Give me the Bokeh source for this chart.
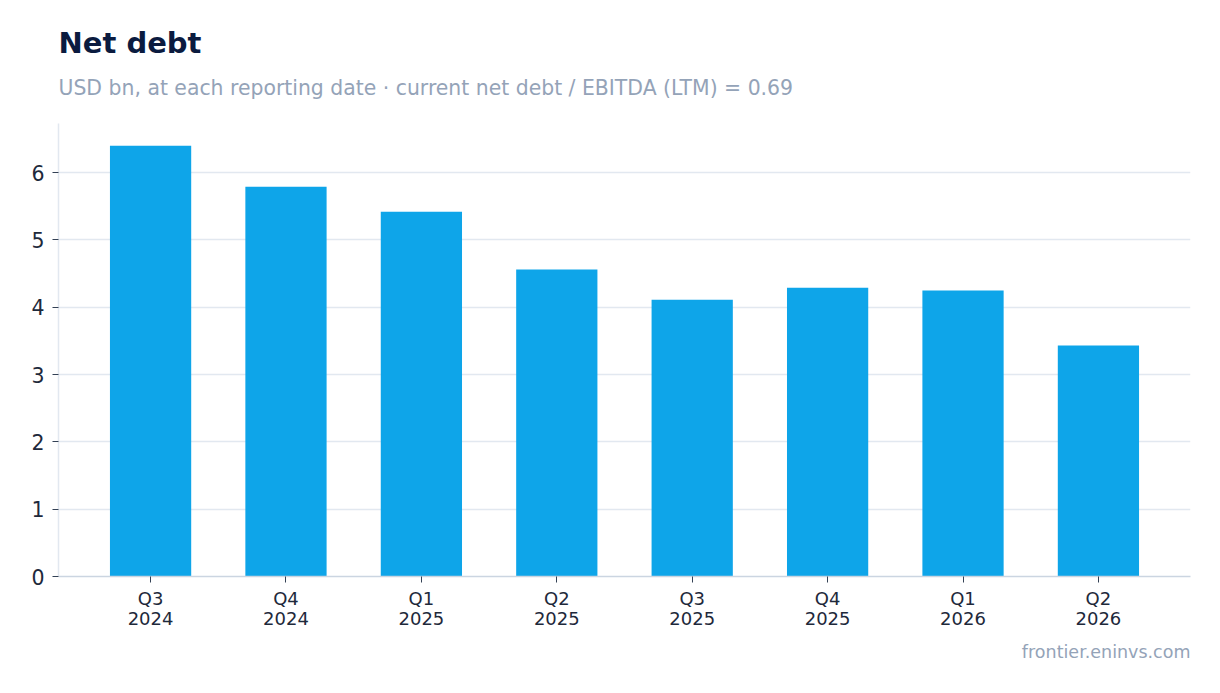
from bokeh.plotting import figure
from bokeh.models import Title, Range1d, FixedTicker, ColumnDataSource, LinearAxis
from bokeh.embed import file_html
from bokeh.resources import INLINE

# ---- data ----
quarter_labels = ["Q3", "Q4", "Q1", "Q2", "Q3", "Q4", "Q1", "Q2"]
year_labels = ["2024", "2024", "2025", "2025", "2025", "2025", "2026", "2026"]
net_debt = [6.40, 5.79, 5.42, 4.56, 4.11, 4.29, 4.25, 3.43]
y_ticks = [0, 1, 2, 3, 4, 5, 6]

title_text = "Net debt"
subtitle_text = "USD bn, at each reporting date \u00b7 current net debt / EBITDA (LTM) = 0.69"
footer_text = "frontier.eninvs.com"

FONT = "DejaVu Sans"
BAR = "#0ea5e9"

idx = list(range(len(net_debt)))
src = ColumnDataSource(dict(x=idx, v=net_debt))

p = figure(
    width=1220, height=693,
    x_range=Range1d(-0.68, len(idx) - 1 + 0.68),
    y_range=Range1d(0, 6.73),
    output_backend="svg", toolbar_location=None, title=None,
    min_border_left=58, min_border_right=30, min_border_top=123, min_border_bottom=117,
)
p.outline_line_color = None
p.background_fill_color = "white"
p.border_fill_color = "white"

p.vbar(x="x", top="v", width=0.6, source=src, fill_color=BAR, line_color=None)

# titles (first added sits closest to the frame)
sub = Title(text=subtitle_text, align="left", text_font=FONT, text_font_size="20.4px",
            text_font_style="normal", text_color="#94a3b8", standoff=48)
p.add_layout(sub, "above")
ttl = Title(text=title_text, align="left", text_font=FONT, text_font_size="29px",
            text_font_style="bold", text_color="#0b1b3f", standoff=-21)
p.add_layout(ttl, "above")

# x axes: quarter row and year row
xq = p.xaxis[0]
xq.ticker = FixedTicker(ticks=idx)
xq.major_label_overrides = {i: q for i, q in zip(idx, quarter_labels)}
xq.axis_line_color = "#cbd5e1"
xq.axis_line_width = 1.5
xq.major_tick_line_color = "#334155"
xq.major_tick_out = 6
xq.major_tick_in = 0
xq.minor_tick_line_color = None
xq.major_label_text_font = FONT
xq.major_label_text_font_size = "18px"
xq.major_label_text_color = "#1e293b"
xq.major_label_standoff = 5

xy = LinearAxis(ticker=FixedTicker(ticks=idx),
                major_label_overrides={i: y for i, y in zip(idx, year_labels)})
xy.axis_line_color = None
xy.major_tick_line_color = None
xy.major_tick_out = 0
xy.major_tick_in = 0
xy.minor_tick_line_color = None
xy.major_label_text_font = FONT
xy.major_label_text_font_size = "18px"
xy.major_label_text_color = "#1e293b"
xy.major_label_standoff = 0
p.add_layout(xy, "below")

foot = Title(text=footer_text, align="right", text_font=FONT, text_font_size="17.5px",
             text_font_style="normal", text_color="#94a3b8", standoff=24)
p.add_layout(foot, "below")

# y axis
yax = p.yaxis[0]
yax.ticker = FixedTicker(ticks=y_ticks)
yax.axis_line_color = "#e2e8f0"
yax.axis_line_width = 1.5
yax.major_tick_line_color = "#334155"
yax.major_tick_out = 6
yax.major_tick_in = 0
yax.minor_tick_line_color = None
yax.major_label_text_font = FONT
yax.major_label_text_font_size = "20.5px"
yax.major_label_text_color = "#1e293b"
yax.major_label_standoff = 8

p.xgrid.grid_line_color = None
p.ygrid.grid_line_color = "#e2e8f0"
p.ygrid.grid_line_width = 1.5
p.ygrid.ticker = FixedTicker(ticks=y_ticks)

open("out.html", "w").write(file_html(p, INLINE))
